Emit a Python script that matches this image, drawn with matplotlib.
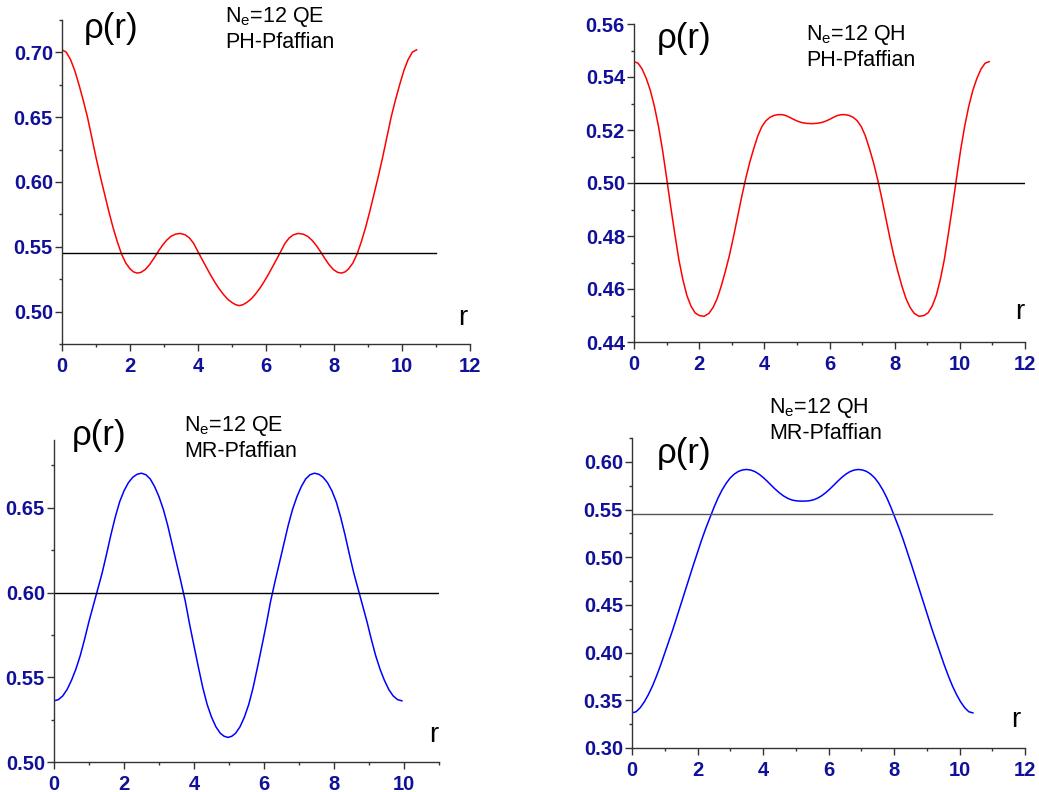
import matplotlib
matplotlib.use("Agg")
import matplotlib.pyplot as plt
from matplotlib.ticker import MultipleLocator, FormatStrFormatter

plt.rcParams['font.family'] = ['Liberation Sans', 'DejaVu Sans']
plt.rcParams['mathtext.fontset'] = 'custom'
plt.rcParams['mathtext.rm'] = 'Liberation Sans'

# PH-Pfaffian, QE  (top left)
r_ph_qe = [0.000, 0.125, 0.250, 0.375, 0.500, 0.625, 0.750, 0.875, 1.000, 1.125, 1.250,
           1.375, 1.500, 1.625, 1.750, 1.875, 2.000, 2.100, 2.210, 2.325, 2.450, 2.575,
           2.700, 2.825, 2.950, 3.075, 3.200, 3.340, 3.480, 3.620, 3.750, 3.875, 4.000,
           4.125, 4.250, 4.375, 4.500, 4.625, 4.750, 4.875, 5.000, 5.110, 5.215,
           5.320, 5.430, 5.555, 5.680, 5.805, 5.930, 6.055, 6.180, 6.305, 6.430, 6.555,
           6.680, 6.810, 6.950, 7.090, 7.230, 7.355, 7.480, 7.605, 7.730, 7.855, 7.980,
           8.105, 8.220, 8.330, 8.430, 8.555, 8.680, 8.805, 8.930, 9.055, 9.180, 9.305,
           9.430, 9.555, 9.680, 9.805, 9.930, 10.055, 10.180, 10.305, 10.430]
rho_ph_qe = [0.7020, 0.7002, 0.6945, 0.6860, 0.6750, 0.6630, 0.6500, 0.6345, 0.6190, 0.6045,
             0.5910, 0.5775, 0.5650, 0.5540, 0.5445, 0.5375, 0.5330, 0.5307, 0.5297, 0.5303,
             0.5325, 0.5362, 0.5410, 0.5462, 0.5510, 0.5550, 0.5580, 0.5598, 0.5603, 0.5593,
             0.5568, 0.5525, 0.5462, 0.5400, 0.5340, 0.5280, 0.5225, 0.5175, 0.5132, 0.5095,
             0.5070, 0.5053, 0.5046,
             0.5053, 0.5070, 0.5095, 0.5132, 0.5175, 0.5225, 0.5280, 0.5340, 0.5400, 0.5462,
             0.5525, 0.5568, 0.5593, 0.5603, 0.5598, 0.5580, 0.5550, 0.5510, 0.5462, 0.5410,
             0.5362, 0.5325, 0.5303, 0.5297, 0.5307, 0.5330, 0.5375, 0.5445, 0.5540, 0.5650,
             0.5775, 0.5910, 0.6045, 0.6190, 0.6345, 0.6500, 0.6630, 0.6750, 0.6860, 0.6945,
             0.7002, 0.7020]

# PH-Pfaffian, QH  (top right)
r_ph_qh = [0.000, 0.125, 0.250, 0.375, 0.500, 0.625, 0.750, 0.875, 1.000, 1.125, 1.250,
           1.375, 1.500, 1.625, 1.750, 1.875, 2.000, 2.150, 2.300, 2.425, 2.550, 2.675,
           2.800, 2.925, 3.050, 3.175, 3.300, 3.425, 3.550, 3.675, 3.800, 3.925, 4.050,
           4.175, 4.300, 4.420, 4.530, 4.650, 4.775, 4.900, 5.025, 5.150, 5.300, 5.450,
           5.600, 5.750, 5.875, 6.000, 6.125, 6.250, 6.370, 6.480, 6.600, 6.725, 6.850,
           6.975, 7.100, 7.225, 7.350, 7.475, 7.600, 7.725, 7.850, 7.975, 8.100, 8.225,
           8.350, 8.475, 8.600, 8.750, 8.900, 9.025, 9.150, 9.275, 9.400, 9.525, 9.650,
           9.775, 9.900, 10.025, 10.150, 10.275, 10.400, 10.525, 10.650, 10.775, 10.900]
rho_ph_qh = [0.5458, 0.5452, 0.5430, 0.5395, 0.5350, 0.5290, 0.5215, 0.5125, 0.5020, 0.4912,
             0.4810, 0.4712, 0.4635, 0.4575, 0.4535, 0.4510, 0.4500, 0.4497, 0.4508, 0.4530,
             0.4563, 0.4610, 0.4665, 0.4725, 0.4795, 0.4870, 0.4945, 0.5015, 0.5077, 0.5130,
             0.5178, 0.5213, 0.5235, 0.5248, 0.5255, 0.5258, 0.5258, 0.5255, 0.5248, 0.5240,
             0.5233, 0.5228, 0.5225, 0.5224,
             0.5225, 0.5228, 0.5233, 0.5240, 0.5248, 0.5255, 0.5258, 0.5258, 0.5255, 0.5248,
             0.5235, 0.5213, 0.5178, 0.5130, 0.5077, 0.5015, 0.4945, 0.4870, 0.4795, 0.4725,
             0.4665, 0.4610, 0.4563, 0.4530, 0.4508, 0.4497, 0.4500, 0.4510, 0.4535, 0.4575,
             0.4635, 0.4712, 0.4810, 0.4912, 0.5020, 0.5125, 0.5215, 0.5290, 0.5350, 0.5395,
             0.5430, 0.5452, 0.5458]

# MR-Pfaffian, QE  (bottom left)
r_mr_qe = [0.000, 0.125, 0.250, 0.375, 0.500, 0.625, 0.750, 0.875, 1.000, 1.125, 1.250,
           1.375, 1.500, 1.625, 1.750, 1.875, 2.000, 2.125, 2.250, 2.375, 2.500, 2.625,
           2.750, 2.875, 3.000, 3.125, 3.250, 3.375, 3.500, 3.625, 3.750, 3.875, 4.000,
           4.125, 4.250, 4.375, 4.500, 4.625, 4.750, 4.860, 4.970,
           5.080, 5.190, 5.315, 5.440, 5.565, 5.690, 5.815, 5.940, 6.065, 6.190, 6.315,
           6.440, 6.565, 6.690, 6.815, 6.940, 7.065, 7.190, 7.315, 7.440, 7.565, 7.690,
           7.815, 7.940, 8.065, 8.190, 8.315, 8.440, 8.565, 8.690, 8.815, 8.940, 9.065,
           9.190, 9.315, 9.440, 9.565, 9.690, 9.815, 9.940]
rho_mr_qe = [0.5361, 0.5368, 0.5390, 0.5428, 0.5482, 0.5548, 0.5628, 0.5725, 0.5830, 0.5925,
             0.6020, 0.6115, 0.6225, 0.6340, 0.6445, 0.6535, 0.6600, 0.6648, 0.6680, 0.6698,
             0.6704, 0.6695, 0.6670, 0.6625, 0.6565, 0.6490, 0.6395, 0.6285, 0.6175, 0.6065,
             0.5950, 0.5812, 0.5685, 0.5560, 0.5440, 0.5340, 0.5265, 0.5208, 0.5170, 0.5152,
             0.5145,
             0.5152, 0.5170, 0.5208, 0.5265, 0.5340, 0.5440, 0.5560, 0.5685, 0.5812, 0.5950,
             0.6065, 0.6175, 0.6285, 0.6395, 0.6490, 0.6565, 0.6625, 0.6670, 0.6695, 0.6704,
             0.6698, 0.6680, 0.6648, 0.6600, 0.6535, 0.6445, 0.6340, 0.6225, 0.6115, 0.6020,
             0.5925, 0.5830, 0.5725, 0.5628, 0.5548, 0.5482, 0.5428, 0.5390, 0.5368, 0.5361]

# MR-Pfaffian, QH  (bottom right)
r_mr_qh = [0.000, 0.125, 0.250, 0.375, 0.500, 0.625, 0.750, 0.875, 1.000, 1.125, 1.250,
           1.375, 1.500, 1.625, 1.750, 1.875, 2.000, 2.125, 2.250, 2.375, 2.500, 2.625,
           2.750, 2.875, 3.000, 3.125, 3.250, 3.375, 3.500, 3.625, 3.750, 3.875, 4.000,
           4.125, 4.250, 4.375, 4.500, 4.625, 4.750, 4.875, 5.000, 5.100, 5.205,
           5.310, 5.410, 5.535, 5.660, 5.785, 5.910, 6.035, 6.160, 6.285, 6.410, 6.535,
           6.660, 6.785, 6.910, 7.035, 7.160, 7.285, 7.410, 7.535, 7.660, 7.785, 7.910,
           8.035, 8.160, 8.285, 8.410, 8.535, 8.660, 8.785, 8.910, 9.035, 9.160, 9.285,
           9.410, 9.535, 9.660, 9.785, 9.910, 10.035, 10.160, 10.285, 10.410]
rho_mr_qh = [0.3368, 0.3380, 0.3422, 0.3483, 0.3560, 0.3650, 0.3755, 0.3870, 0.3995, 0.4120,
             0.4245, 0.4380, 0.4515, 0.4650, 0.4785, 0.4920, 0.5050, 0.5180, 0.5300, 0.5410,
             0.5520, 0.5620, 0.5705, 0.5775, 0.5832, 0.5872, 0.5900, 0.5915, 0.5920, 0.5914,
             0.5898, 0.5872, 0.5838, 0.5798, 0.5755, 0.5713, 0.5675, 0.5643, 0.5618, 0.5601,
             0.5592, 0.5589, 0.5588,
             0.5589, 0.5592, 0.5601, 0.5618, 0.5643, 0.5675, 0.5713, 0.5755, 0.5798, 0.5838,
             0.5872, 0.5898, 0.5914, 0.5920, 0.5915, 0.5900, 0.5872, 0.5832, 0.5775, 0.5705,
             0.5620, 0.5520, 0.5410, 0.5300, 0.5180, 0.5050, 0.4920, 0.4785, 0.4650, 0.4515,
             0.4380, 0.4245, 0.4120, 0.3995, 0.3870, 0.3755, 0.3650, 0.3560, 0.3483, 0.3422,
             0.3380, 0.3368]

# reference levels (value, r_end)
ref_ph_qe = (6 / 11, 11)
ref_ph_qh = (0.50, 12)
ref_mr_qe = (0.60, 11)
ref_mr_qh = (6 / 11, 11)

labels = ["N$_{\\mathrm{e}}$=12 QE\nPH-Pfaffian", "N$_{\\mathrm{e}}$=12 QH\nPH-Pfaffian",
          "N$_{\\mathrm{e}}$=12 QE\nMR-Pfaffian", "N$_{\\mathrm{e}}$=12 QH\nMR-Pfaffian"]

W, H = 1039, 792
fig = plt.figure(figsize=(W / 100, H / 100), dpi=100)


def px_axes(l, t, r, b):
    return fig.add_axes([l / W, 1 - b / H, (r - l) / W, (b - t) / H])


tick_col = "#10109a"
panels = [
    dict(box=(62, 20, 470, 344), r=r_ph_qe, rho=rho_ph_qe, col="red", ref=ref_ph_qe,
         refcol="black", xlim=(0, 12), ylim=(0.475, 0.725), ymaj=0.05, ymin=0.025,
         rho_pos=(84, 12), lab_pos=(225, 5), r_pos=(463, 318), lab=labels[0]),
    dict(box=(634, 24, 1025, 342), r=r_ph_qh, rho=rho_ph_qh, col="red", ref=ref_ph_qh,
         refcol="black", xlim=(0, 12), ylim=(0.44, 0.56), ymaj=0.02, ymin=0.01,
         rho_pos=(657, 22), lab_pos=(806, 23), r_pos=(1020, 312), lab=labels[1]),
    dict(box=(54, 440, 439, 762), r=r_mr_qe, rho=rho_mr_qe, col="blue", ref=ref_mr_qe,
         refcol="black", xlim=(0, 11), ylim=(0.50, 0.69), ymaj=0.05, ymin=0.025,
         rho_pos=(72, 419), lab_pos=(184, 414), r_pos=(434, 735), lab=labels[2]),
    dict(box=(632, 438, 1025, 748), r=r_mr_qh, rho=rho_mr_qh, col="blue", ref=ref_mr_qh,
         refcol="#555555", xlim=(0, 12), ylim=(0.30, 0.625), ymaj=0.05, ymin=0.025,
         rho_pos=(657, 437), lab_pos=(769, 396), r_pos=(1016, 720), lab=labels[3]),
]

for p in panels:
    ax = px_axes(*p["box"])
    ax.plot(p["r"], p["rho"], color=p["col"], lw=1.1)
    ax.plot([0, p["ref"][1]], [p["ref"][0], p["ref"][0]], color=p["refcol"], lw=1.0)
    ax.set_xlim(*p["xlim"])
    ax.set_ylim(*p["ylim"])
    for s in ["top", "right"]:
        ax.spines[s].set_visible(False)
    for s in ["left", "bottom"]:
        ax.spines[s].set_color("#333333")
        ax.spines[s].set_linewidth(1.0)
    ax.xaxis.set_major_locator(MultipleLocator(2))
    ax.xaxis.set_minor_locator(MultipleLocator(1))
    ax.yaxis.set_major_locator(MultipleLocator(p["ymaj"]))
    ax.yaxis.set_minor_locator(MultipleLocator(p["ymin"]))
    ax.yaxis.set_major_formatter(FormatStrFormatter("%.2f"))
    ax.tick_params(which="major", direction="out", length=5, width=1, color="#333333")
    ax.tick_params(which="minor", direction="out", length=2.5, width=1, color="#333333")
    ax.tick_params(axis="y", which="major", pad=1.5)
    ax.tick_params(axis="x", which="major", pad=4)
    for t in ax.get_xticklabels() + ax.get_yticklabels():
        t.set_fontweight("bold")
        t.set_fontsize(14.5)
        t.set_color(tick_col)
    fig.text(p["rho_pos"][0] / W, 1 - p["rho_pos"][1] / H, "ρ(r)", fontsize=25,
             ha="left", va="top")
    fig.text(p["lab_pos"][0] / W, 1 - p["lab_pos"][1] / H, p["lab"], fontsize=15.5,
             ha="left", va="top", linespacing=1.2)
    fig.text(p["r_pos"][0] / W, 1 - p["r_pos"][1] / H, "r", fontsize=20,
             ha="center", va="center")

fig.savefig("out.png", dpi=100)
